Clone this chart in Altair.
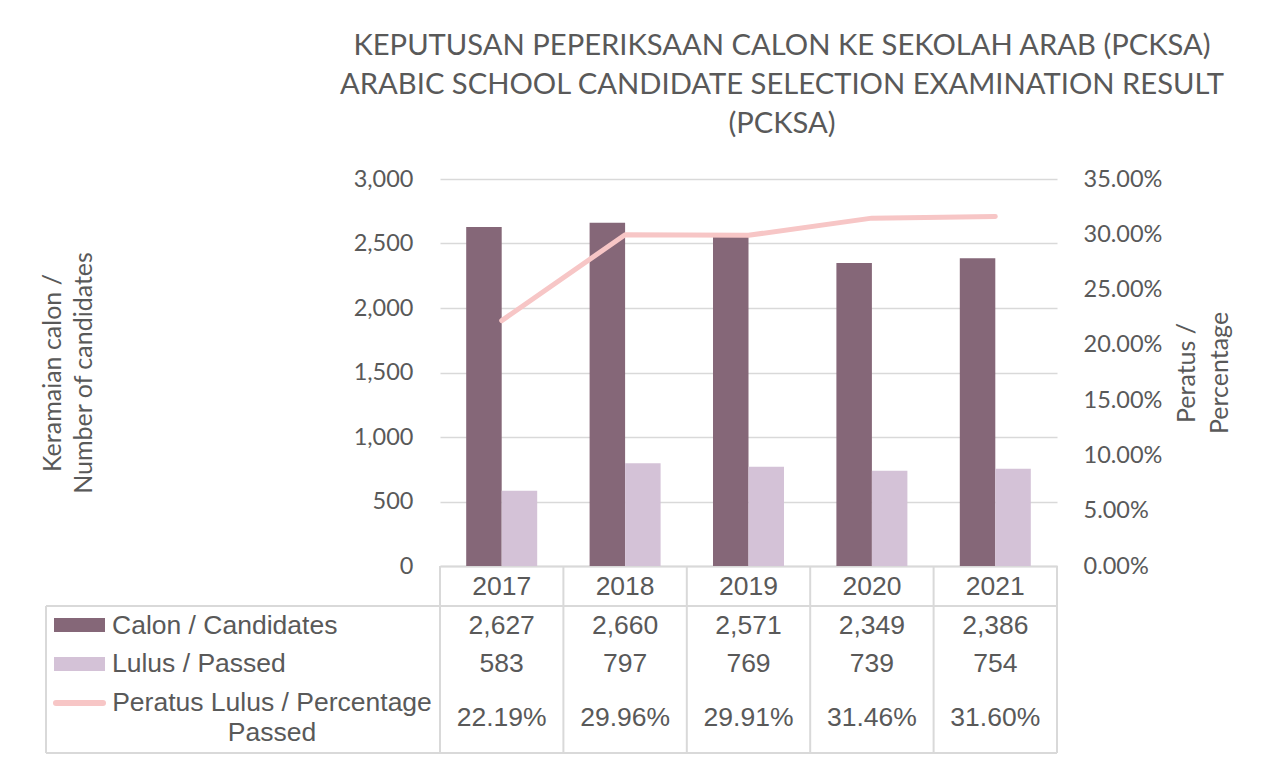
import altair as alt
import pandas as pd

# ---------------- data ----------------
years = ["2017", "2018", "2019", "2020", "2021"]
candidates = [2627, 2660, 2571, 2349, 2386]
passed = [583, 797, 769, 739, 754]
pct_passed = [0.2219, 0.2996, 0.2991, 0.3146, 0.3160]

series_names = ["Calon / Candidates", "Lulus / Passed"]
line_label = ["Peratus Lulus / Percentage", "Passed"]
title_lines = [
    "KEPUTUSAN PEPERIKSAAN CALON KE SEKOLAH ARAB (PCKSA)",
    "ARABIC SCHOOL CANDIDATE SELECTION EXAMINATION RESULT",
    "(PCKSA)",
]
left_title = ["Keramaian calon /", "Number of candidates"]
right_title = ["Peratus /", "Percentage"]
count_ticks = [0, 500, 1000, 1500, 2000, 2500, 3000]
pct_ticks = [0, 0.05, 0.10, 0.15, 0.20, 0.25, 0.30, 0.35]

# ---------------- style ----------------
bar_colors = ["#856778", "#d4c2d7"]
line_color = "#f7c6c6"
GRID = "#d9d9d9"
TXT = "#595959"
AX_FONT = "Lato"
TAB_FONT = "Liberation Sans"
TAB_SIZE = 26.5

W = 1011        # plot width (table left edge to table right edge)
H = 574         # plot height (plot top to table bottom)
PLOT_H = 387    # height of the bar/line area
X0 = 394        # where the year columns start

# ---------------- tables ----------------
bars_df = pd.DataFrame({
    "year": years * 2,
    "series": [series_names[0]] * len(years) + [series_names[1]] * len(years),
    "value": candidates + passed,
})
tab_df = pd.DataFrame({
    "year": years,
    "candidates": candidates,
    "passed": passed,
    "pct": pct_passed,
})
one = pd.DataFrame({"k": [0]})

x_scale = alt.Scale(domain=years, range=[X0, W], paddingInner=0, paddingOuter=0)
x_axis = alt.Axis(
    orient="bottom", offset=-(H - PLOT_H), title=None, labelAngle=0,
    ticks=False, domain=True, domainColor=GRID, domainWidth=2,
    labelFont=TAB_FONT, labelFontSize=TAB_SIZE, labelColor=TXT,
    labelPadding=20, labelBaseline="middle", grid=False,
)
x_enc = alt.X("year:N", sort=years, scale=x_scale, axis=x_axis)
x_start = alt.X("year:N", sort=years, scale=x_scale, axis=x_axis, bandPosition=0)

color_scale = alt.Scale(domain=series_names, range=bar_colors)

left_axis = alt.Axis(
    orient="left", offset=-X0, values=count_ticks, format=",.0f",
    grid=True, gridColor=GRID, gridWidth=1.5, ticks=False, domain=False,
    labelFont=AX_FONT, labelFontSize=23.5, labelColor=TXT, labelPadding=27,
    title=left_title, titleFont=AX_FONT, titleFontSize=25, titleColor=TXT,
    titleFontWeight="normal", titleAngle=270, titleX=-387.5, titleY=PLOT_H / 2,
    titleBaseline="middle", titleAlign="center", titleLineHeight=31,
)
right_axis = alt.Axis(
    orient="right", values=pct_ticks, format=".2%",
    grid=False, ticks=False, domain=False,
    labelFont=AX_FONT, labelFontSize=23.5, labelColor=TXT, labelPadding=26,
    title=right_title, titleFont=AX_FONT, titleFontSize=25, titleColor=TXT,
    titleFontWeight="normal", titleAngle=270, titleX=129.5, titleY=PLOT_H / 2,
    titleBaseline="middle", titleAlign="center", titleLineHeight=33,
)

bars = alt.Chart(bars_df).mark_bar().encode(
    x=x_enc,
    xOffset=alt.XOffset("series:N", sort=series_names,
                        scale=alt.Scale(domain=series_names, paddingInner=0, paddingOuter=0.738)),
    y=alt.Y("value:Q", scale=alt.Scale(domain=[0, 3000], range=[PLOT_H, 0], nice=False), axis=left_axis),
    color=alt.Color("series:N", scale=color_scale, legend=None),
)

line = alt.Chart(tab_df).mark_line(strokeWidth=5, strokeCap="round", strokeJoin="round", color=line_color).encode(
    x=x_enc,
    y=alt.Y("pct:Q", scale=alt.Scale(domain=[0, 0.35], range=[PLOT_H, 0], nice=False), axis=right_axis),
)

rule_kw = dict(color=GRID, strokeWidth=2)
dividers = alt.Chart(tab_df).mark_rule(**rule_kw).encode(
    x=x_start, y=alt.value(PLOT_H), y2=alt.value(H))
right_edge = alt.Chart(one).mark_rule(**rule_kw).encode(
    x=alt.value(W), y=alt.value(PLOT_H), y2=alt.value(H))
left_edge = alt.Chart(one).mark_rule(**rule_kw).encode(
    x=alt.value(0), y=alt.value(427), y2=alt.value(H))
hline1 = alt.Chart(one).mark_rule(**rule_kw).encode(
    x=alt.value(0), x2=alt.value(W), y=alt.value(427))
hline2 = alt.Chart(one).mark_rule(**rule_kw).encode(
    x=alt.value(0), x2=alt.value(W), y=alt.value(H))

txt_kw = dict(font=TAB_FONT, fontSize=TAB_SIZE, color=TXT, baseline="middle")
val_cand = alt.Chart(tab_df).mark_text(**txt_kw).encode(
    x=x_enc, y=alt.value(446.5), text=alt.Text("candidates:Q", format=",.0f"))
val_pass = alt.Chart(tab_df).mark_text(**txt_kw).encode(
    x=x_enc, y=alt.value(485), text=alt.Text("passed:Q", format=",.0f"))
val_pct = alt.Chart(tab_df).mark_text(**txt_kw).encode(
    x=x_enc, y=alt.value(539), text=alt.Text("pct:Q", format=".2%"))

lab1_df = pd.DataFrame({"series": [series_names[0]]})
lab2_df = pd.DataFrame({"series": [series_names[1]]})
lab_cand = alt.Chart(lab1_df).mark_text(align="left", **txt_kw).encode(
    x=alt.value(66), y=alt.value(446.5), text="series:N")
lab_pass = alt.Chart(lab2_df).mark_text(align="left", **txt_kw).encode(
    x=alt.value(66), y=alt.value(485), text="series:N")
lab_pct = alt.Chart(one).mark_text(align="center", text=line_label, lineHeight=30, **txt_kw).encode(
    x=alt.value(226), y=alt.value(523.5))

sw1 = alt.Chart(lab1_df).mark_rect().encode(
    x=alt.value(8), x2=alt.value(59), y=alt.value(439), y2=alt.value(453),
    color=alt.Color("series:N", scale=color_scale, legend=None))
sw2 = alt.Chart(lab2_df).mark_rect().encode(
    x=alt.value(8), x2=alt.value(59), y=alt.value(478), y2=alt.value(492),
    color=alt.Color("series:N", scale=color_scale, legend=None))
sw3 = alt.Chart(one).mark_rule(strokeWidth=6, strokeCap="round", color=line_color).encode(
    x=alt.value(10), x2=alt.value(57), y=alt.value(524))

chart = alt.layer(
    bars, line,
    dividers, right_edge, left_edge, hline1, hline2,
    val_cand, val_pass, val_pct, lab_cand, lab_pass, lab_pct,
    sw1, sw2, sw3,
).resolve_scale(y="independent").properties(
    width=W, height=H,
    title=alt.TitleParams(
        text=title_lines, font=AX_FONT, fontSize=29.2, fontWeight="normal", color=TXT,
        lineHeight=39, anchor="middle", frame="group", dx=230.5, offset=28,
    ),
    autosize=alt.AutoSizeParams(type="none"),
    padding={"left": 38, "top": 171, "right": 203, "bottom": 5},
    background="white",
).configure_view(stroke=None)

chart.save("out.html", embed_options={"renderer": "svg", "actions": False})
